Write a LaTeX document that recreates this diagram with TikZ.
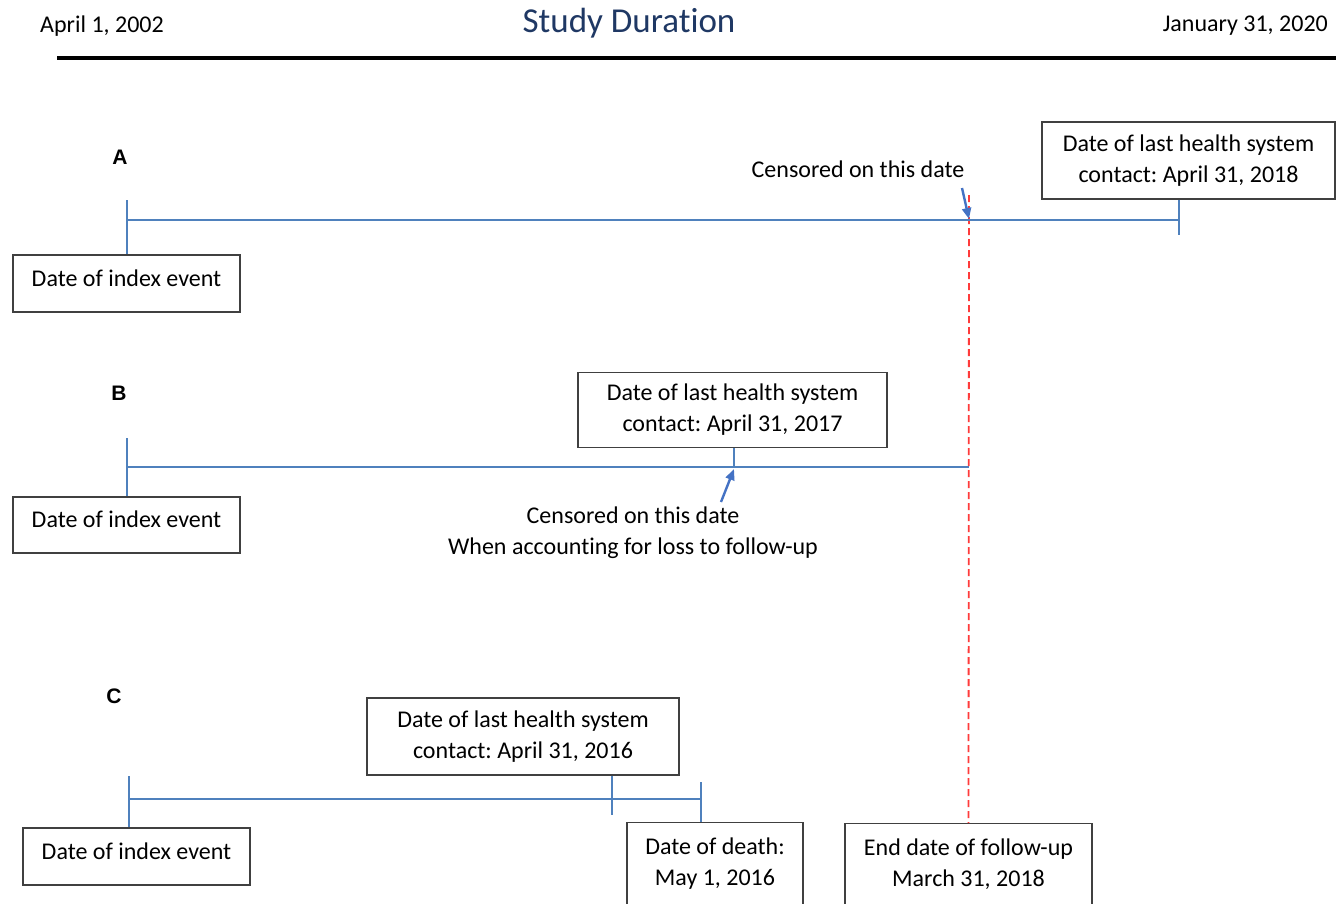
\documentclass[tikz,border=0pt]{standalone}
\usepackage{fontspec}
\setmainfont{Carlito}[Ligatures=CommonOff]
\newfontfamily\lblfont{Liberation Sans}
\usetikzlibrary{arrows.meta}
\definecolor{tlblue}{HTML}{4F81BD}
\definecolor{arblue}{HTML}{4472C4}
\definecolor{titlenavy}{HTML}{1F3864}
\definecolor{boxgray}{HTML}{404040}
\definecolor{cutred}{HTML}{FF3B3B}
\frenchspacing
\tikzset{
  bodytext/.style={font=\frenchspacing\fontsize{24}{31}\selectfont, inner sep=0pt, align=center},
  infobox/.style={bodytext, draw=boxgray, line width=1.3pt, fill=white},
  rowlbl/.style={font=\lblfont\bfseries\fontsize{21}{24}\selectfont, inner sep=0pt},
  tline/.style={draw=tlblue, line width=1.6pt},
  cutline/.style={draw=cutred, line width=1.8pt, dash pattern=on 7pt off 4pt},
  arr/.style={draw=arblue, line width=2.4pt, -{Triangle[length=11pt,width=9pt]}},
}
\begin{document}
\begin{tikzpicture}[x=1pt,y=-1pt]
\useasboundingbox (0,0) rectangle (1336,903);
\clip (0,0) rectangle (1336,903);
\fill[white] (0,0) rectangle (1336,903);

% header
\node[bodytext] (start) at (102,26) {April 1, 2002};
\node[bodytext, font=\fontsize{35}{40}\selectfont, text=titlenavy] (title) at (629,23) {Study Duration};
\node[bodytext, anchor=east] (stop) at (1328,26) {January 31, 2020};
\coordinate (hl) at (57,58);
\coordinate (hr) at (1336,58);
\draw[line width=3.2pt] (hl) -- (hr);

% red dashed end of follow-up
\node[infobox, anchor=north, minimum width=247pt, inner ysep=15pt, text depth=60pt] (endfu) at (968.5,823) {End date of follow-up\\March 31, 2018};
\coordinate (cutTop) at (969,195);
\draw[cutline] (cutTop) -- (endfu.north);

% ---------- Row A ----------
\node[rowlbl] (labA) at (120,157) {A};
\coordinate (a0) at (127,220);
\coordinate (a1) at (1179,220);
\coordinate (a0t) at (127,200);
\coordinate (a1b) at (1179,235);
\node[infobox, minimum width=227pt, minimum height=57pt, text depth=11pt] (aidx) at (126.5,283.5) {Date of index event};
\node[infobox, minimum width=293pt, minimum height=77pt] (alast) at (1188.5,160.5) {Date of last health system\\contact: April 31, 2018};
\draw[tline] (a0) -- (a1);
\draw[tline] (a0t) -- (a0t |- aidx.north);
\draw[tline] (a1 |- alast.south) -- (a1b);
\node[bodytext] (censA) at (858,169) {Censored on this date};
\coordinate (arA0) at (962,188);
\coordinate (arA1) at (969,219);
\draw[arr] (arA0) -- (arA1);

% ---------- Row B ----------
\node[rowlbl] (labB) at (119,393) {B};
\coordinate (b0) at (127,467);
\coordinate (b1) at (969,467);
\coordinate (b0t) at (127,438);
\coordinate (bm) at (734,467);
\node[infobox, minimum width=227pt, minimum height=56pt, text depth=11pt] (bidx) at (126.5,525) {Date of index event};
\node[infobox, minimum width=309pt, minimum height=75pt] (blast) at (732.5,410) {Date of last health system\\contact: April 31, 2017};
\draw[tline] (b0) -- (b1);
\draw[tline] (b0t) -- (b0t |- bidx.north);
\draw[tline] (bm |- blast.south) -- (bm);
\node[bodytext] (censB) at (633,532.5) {Censored on this date\\When accounting for loss to follow-up};
\coordinate (arB0) at (721,502);
\coordinate (arB1) at (734,469);
\draw[arr] (arB0) -- (arB1);

% ---------- Row C ----------
\node[rowlbl] (labC) at (114,696) {C};
\coordinate (c0) at (129,799);
\coordinate (c1) at (701,799);
\coordinate (c0t) at (129,776);
\coordinate (c1t) at (701,782);
\coordinate (cm) at (612,799);
\coordinate (cmb) at (612,815);
\node[infobox, minimum width=227pt, minimum height=57pt, text depth=11pt] (cidx) at (136.5,856.5) {Date of index event};
\node[infobox, minimum width=312pt, minimum height=77pt] (clast) at (523,736.5) {Date of last health system\\contact: April 31, 2016};
\node[infobox, anchor=north, minimum width=176pt, inner ysep=15pt, text depth=60pt] (death) at (715,822) {Date of death:\\May 1, 2016};
\draw[tline] (c0) -- (c1);
\draw[tline] (c0t) -- (c0t |- cidx.north);
\draw[tline] (cm |- clast.south) -- (cmb);
\draw[tline] (c1t) -- (c1 |- death.north);
\end{tikzpicture}
\end{document}
